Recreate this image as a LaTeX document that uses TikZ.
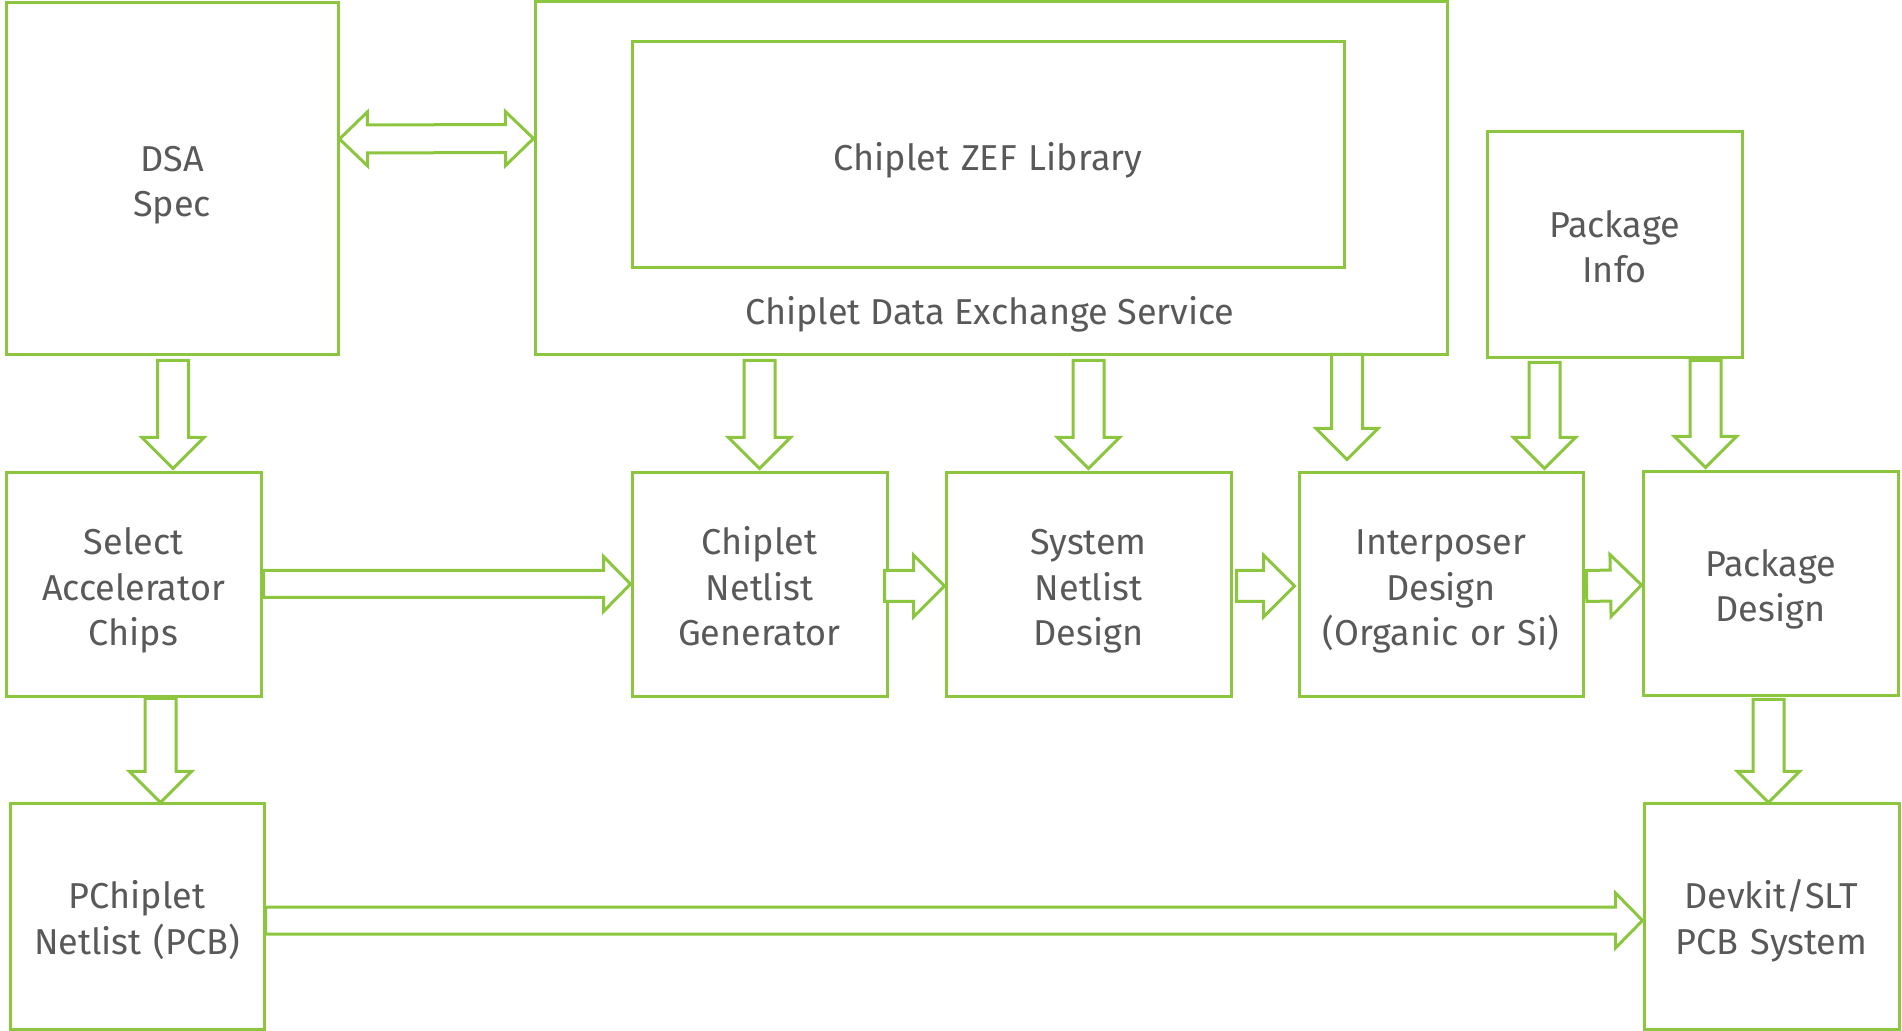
\documentclass[tikz,border=0pt]{standalone}
\usepackage{fontspec}
\setmainfont{Fira Sans}
\usetikzlibrary{calc}

\definecolor{flowgreen}{RGB}{140,198,63}
\definecolor{flowtext}{RGB}{89,89,89}

\tikzset{
	box/.style={draw=flowgreen, line width=1.5pt, fill=white, text=flowtext,
		align=center, text width=124pt, inner sep=0pt, font=\fontsize{18}{22.75}\selectfont,
		execute at begin node={\rule{0pt}{\dimexpr\fontcharht\font`\l+5.5pt\relax}},
		execute at end node={\rule[-\fontchardp\font`\p]{0pt}{0pt}}},
	label/.style={text=flowtext, align=center, inner sep=0pt,
		font=\fontsize{18}{22.75}\selectfont},
	% block arrow: shaft half width, head half width, head length
	fat/.style n args={3}{draw=flowgreen, line width=1.5pt, fill=white,
		to path={let \p1=(\tikztostart), \p2=(\tikztotarget),
			\p3=($(\p2)!#3!(\p1)$) in
			($(\p1)!#1!90:(\p2)$) -- ($(\p3)!#1!90:(\p2)$) -- ($(\p3)!#2!90:(\p2)$)
			-- (\p2) -- ($(\p3)!#2!-90:(\p2)$) -- ($(\p3)!#1!-90:(\p2)$)
			-- ($(\p1)!#1!-90:(\p2)$) -- cycle}},
	fatboth/.style n args={3}{draw=flowgreen, line width=1.5pt, fill=white,
		to path={let \p1=(\tikztostart), \p2=(\tikztotarget),
			\p3=($(\p2)!#3!(\p1)$), \p4=($(\p1)!#3!(\p2)$) in
			(\p1) -- ($(\p4)!#2!90:(\p2)$) -- ($(\p4)!#1!90:(\p2)$)
			-- ($(\p3)!#1!90:(\p2)$) -- ($(\p3)!#2!90:(\p2)$) -- (\p2)
			-- ($(\p3)!#2!-90:(\p2)$) -- ($(\p3)!#1!-90:(\p2)$)
			-- ($(\p4)!#1!-90:(\p2)$) -- ($(\p4)!#2!-90:(\p2)$) -- cycle}},
	bigarrow/.style={fat={7.75pt}{15.5pt}{15.5pt}},
	longarrow/.style={fat={6.75pt}{13.75pt}{13.5pt}}
}

\begin{document}
\begin{tikzpicture}[x=0.5pt,y=-0.5pt]
	\useasboundingbox (0,0) rectangle (1902,1031);

	% top row
	\node[box, minimum width=166pt, minimum height=176pt] (dsa) at (172,179) {DSA\\Spec};
	\node[box, minimum width=456pt, minimum height=176.5pt] (cdes) at (991,178.5) {};
	\node[box, text width=300pt, minimum width=356pt, minimum height=113pt] (zef) at (988,155) {Chiplet ZEF Library};
	\node[label] (cdestext) at (990,314) {Chiplet Data Exchange Service};
	\node[box, minimum width=127.5pt, minimum height=113pt] (pinfo) at (1614.5,245) {Package\\Info};

	% middle row
	\node[box, minimum width=127.5pt, minimum height=112pt] (sel) at (133.5,585) {Select\\Accelerator\\Chips};
	\node[box, minimum width=127.5pt, minimum height=112pt] (cng) at (759.5,585) {Chiplet\\Netlist\\Generator};
	\node[box, minimum width=142.5pt, minimum height=112pt] (snd) at (1088.5,585) {System\\Netlist\\Design};
	\node[box, minimum width=142pt, minimum height=112pt] (ipd) at (1441,585) {Interposer\\Design\\(Organic or Si)};
	\node[box, minimum width=127.5pt, minimum height=112pt] (pkd) at (1770.5,584) {Package\\Design};

	% bottom row
	\node[box, minimum width=127pt, minimum height=112.5pt] (pcn) at (137,916.5) {PChiplet\\Netlist (PCB)};
	\node[box, minimum width=127.5pt, minimum height=112.5pt] (dev) at (1771.5,916.5) {Devkit/SLT\\PCB System};

	\draw[fatboth={7pt}{13.5pt}{14pt}] ($(dsa.east)+(0,-40)$) to ($(cdes.west)+(0,-40)$);

	\draw[bigarrow] ($(dsa.south)+(1,4)$) to ($(dsa.south |- sel.north)+(1,-3)$);
	\draw[bigarrow] ($(cng.north |- cdes.south)+(0,4)$) to ($(cng.north)+(0,-3)$);
	\draw[bigarrow] ($(snd.north |- cdes.south)+(0,4)$) to ($(snd.north)+(0,-3)$);
	\draw[bigarrow] ($(ipd.north |- cdes.south)+(-94,-2)$) to ($(ipd.north)+(-94,-12)$);
	\draw[bigarrow] ($(pinfo.south)+(-70,3)$) to ($(pinfo.south |- ipd.north)+(-70,-3)$);
	\draw[bigarrow] ($(pkd.north |- pinfo.south)+(-65,1)$) to ($(pkd.north)+(-65,-3)$);

	\draw[longarrow] ($(sel.east)+(1,-1)$) to ($(cng.west)+(0,-1)$);
	\draw[bigarrow] ($(cng.east)+(-4,1)$) to ($(snd.west)+(0,1)$);
	\draw[bigarrow] ($(snd.east)+(4,1)$) to ($(ipd.west)+(-3,1)$);
	\draw[bigarrow] ($(ipd.east)+(2,1)$) to ($(pkd.west)+(0,1)$);

	\draw[bigarrow] ($(sel.south)+(27,0)$) to ($(sel.south |- pcn.north)+(27,0)$);
	\draw[bigarrow] ($(pkd.south)+(-2,2)$) to ($(pkd.south |- dev.north)+(-2,0)$);
	\draw[longarrow] ($(pcn.east)+(0,4)$) to ($(dev.west)+(0,4)$);
\end{tikzpicture}
\end{document}
